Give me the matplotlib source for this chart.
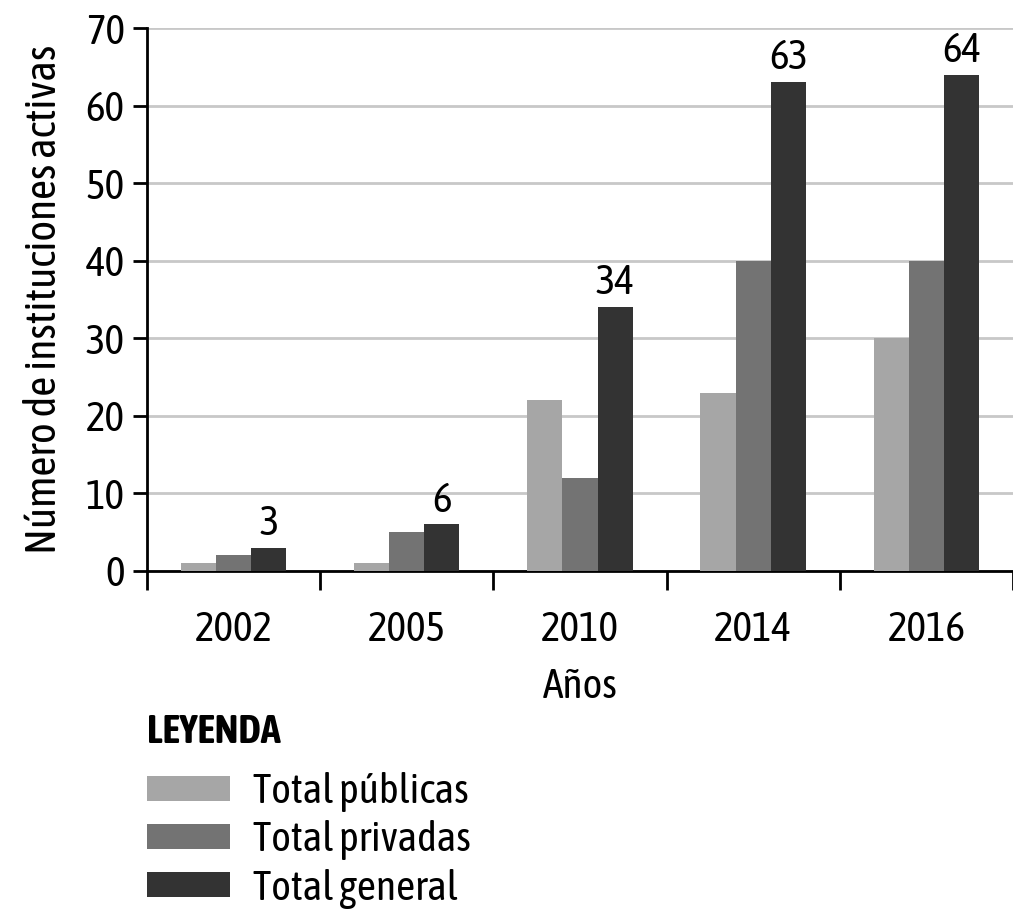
import numpy as np
import matplotlib
matplotlib.use("Agg")
import matplotlib.pyplot as plt
from matplotlib import font_manager

# ── DATA ───────────────────────────────────────────────────────────────────────
years    = ["2002", "2005", "2010", "2014", "2016"]
publicas = [1, 1, 22, 23, 30]
privadas = [2, 5, 12, 40, 40]
general  = [3, 6, 34, 63, 64]
series_labels = ["Total públicas", "Total privadas", "Total general"]
COLORS = ["#a6a6a6", "#737373", "#333333"]

# look for a condensed face, the reference uses a narrow sans
fonts = font_manager.fontManager.ttflist
cond = [f for f in fonts if "Condensed" in f.name or "Narrow" in f.name]
stretched = [f for f in fonts if str(f.stretch) in ("condensed", "semi-condensed")]
if cond:
    with_bold = {f.name for f in cond if isinstance(f.weight, int) and f.weight >= 600
                 or f.weight in ("bold", "semibold", "demibold")}
    pick = sorted(with_bold)[0] if with_bold else cond[0].name
    plt.rcParams["font.family"] = [pick, "DejaVu Sans"]
    FS = 30
elif stretched:
    plt.rcParams["font.family"] = [stretched[0].name, "DejaVu Sans"]
    plt.rcParams["font.stretch"] = "condensed"
    FS = 30
else:
    plt.rcParams["font.family"] = ["DejaVu Sans"]
    FS = 0

fig = plt.figure(figsize=(10.13, 9.13), dpi=100)
ax = fig.add_axes([0.145, 0.3746, 0.855, 0.5947])

x = np.arange(len(years))
w = 0.203
for i, (vals, lab) in enumerate(zip([publicas, privadas, general], series_labels)):
    ax.bar(x + (i - 1) * w, vals, width=w, color=COLORS[i], label=lab, zorder=3)

tick_fs = FS or 28
ylab_fs = (FS + 1.5) if FS else 22.5
for xi, v in zip(x, general):
    ax.text(xi + w, v + 0.5, str(v), ha="center", va="bottom", fontsize=tick_fs, color="black")

ax.set_ylim(0, 70)
ax.set_xlim(-0.5, 4.45)
ax.set_yticks(range(0, 71, 10))
ax.yaxis.grid(True, color="#c8c8c8", linewidth=2, zorder=0)
ax.set_axisbelow(True)

ax.set_xticks(x)
ax.set_xticklabels(years)
ax.set_xticks(np.arange(-0.5, 4.6, 1), minor=True)
ax.tick_params(axis="x", which="major", length=0, pad=28, labelsize=tick_fs)
ax.tick_params(axis="x", which="minor", length=14, width=2, direction="out")
ax.tick_params(axis="y", length=10, width=2, labelsize=tick_fs, pad=6)

for s in ["top", "right"]:
    ax.spines[s].set_visible(False)
for s in ["left", "bottom"]:
    ax.spines[s].set_linewidth(2)

ax.set_ylabel("Número de instituciones activas", fontsize=ylab_fs, labelpad=15)
ax.set_xlabel("Años", fontsize=tick_fs, labelpad=12)

leg = ax.legend(loc="upper left", bbox_to_anchor=(0.145, 0.219), bbox_transform=fig.transFigure,
                title="LEYENDA", alignment="left", frameon=False, fontsize=30,
                handlelength=2.0, handleheight=0.55, labelspacing=0.2, handletextpad=0.55,
                borderpad=0, borderaxespad=0)
title = leg.get_title()
title.set_fontsize(29)
title.set_fontweight("bold")
leg._legend_box.sep = 15

fig.savefig("out.png", dpi=100)
